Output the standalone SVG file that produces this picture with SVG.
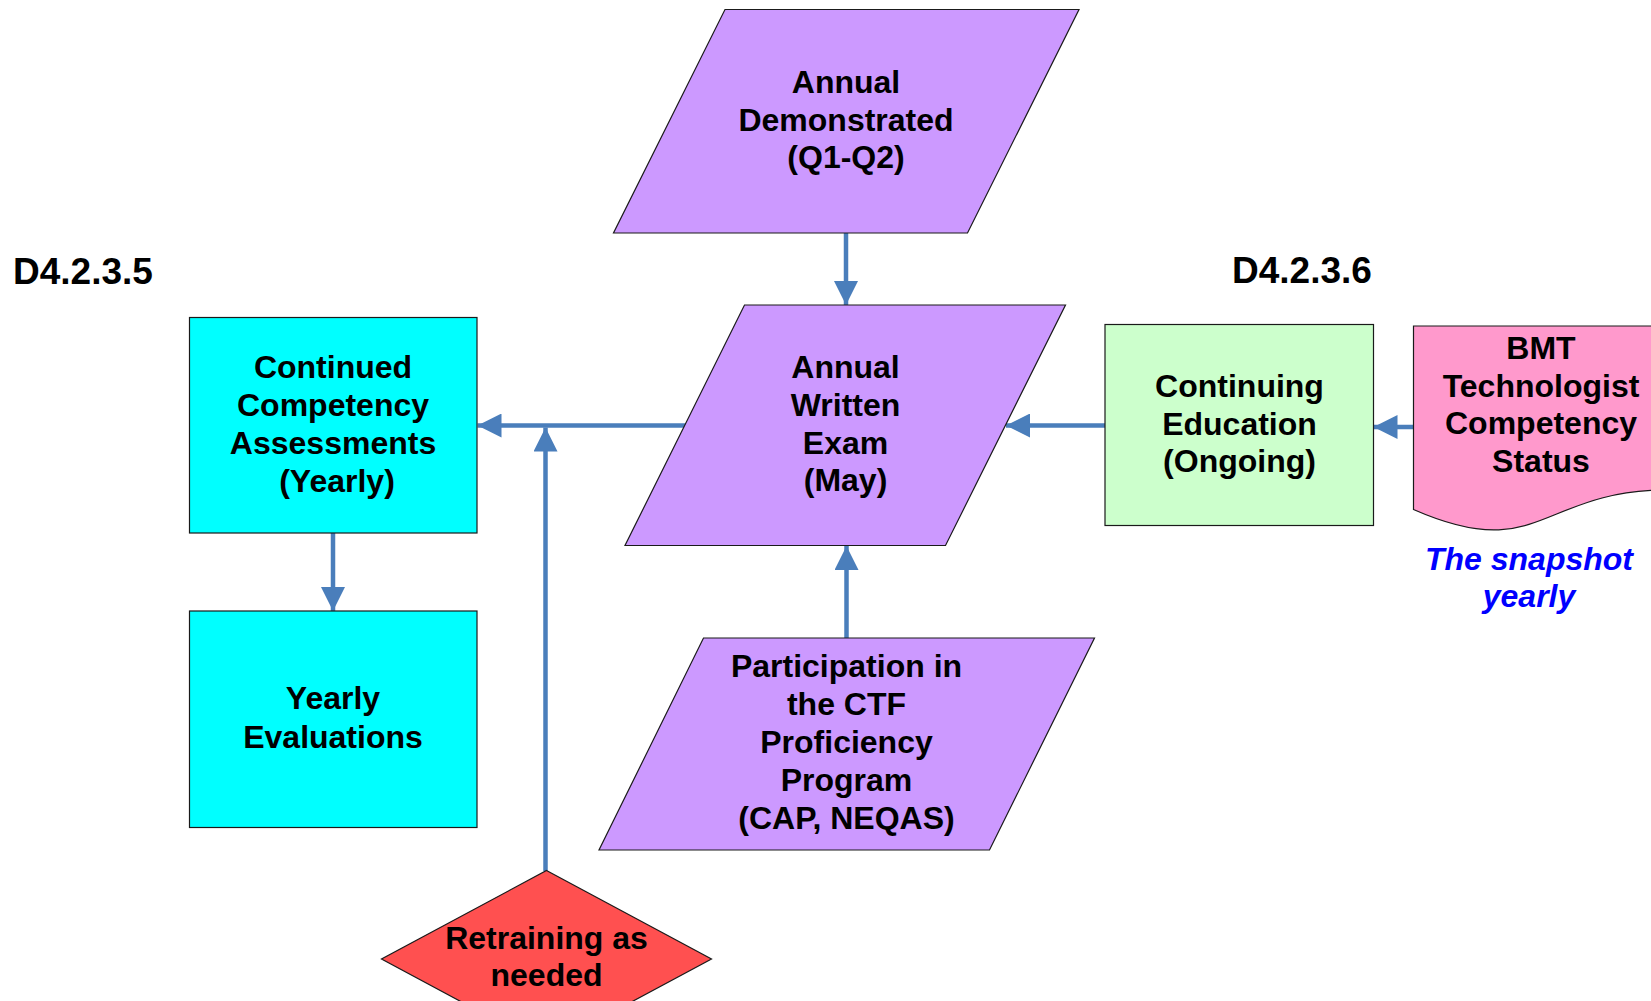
<svg xmlns="http://www.w3.org/2000/svg" width="1651" height="1001" viewBox="0 0 1651 1001">
<style>
  .shape { stroke: #1a1a1a; stroke-width: 1.2; }
  .purple { fill: #CC99FF; }
  .cyan { fill: #00FFFF; }
  .green { fill: #CCFFCC; }
  .pink { fill: #FF99CC; }
  .red { fill: #FF5050; }
  .lbl { font-family: "Liberation Sans", Arial, sans-serif; font-weight: bold; font-size: 32px; fill: #000; text-anchor: middle; }
  .code { font-family: "Liberation Sans", Arial, sans-serif; font-weight: bold; font-size: 37px; fill: #000; }
  .note { font-family: "Liberation Sans", Arial, sans-serif; font-weight: bold; font-style: italic; font-size: 32px; fill: #0000FF; text-anchor: middle; }
  .conn { stroke: #4A7EBB; stroke-width: 4.5; fill: none; marker-end: url(#arrow); }
</style>
<defs>
  <marker id="arrow" viewBox="0 0 24 24" markerWidth="24" markerHeight="24" refX="24" refY="12" orient="auto" markerUnits="userSpaceOnUse">
    <path d="M0,0 L24,12 L0,24 Z" fill="#4A7EBB"/>
  </marker>
</defs>
<rect width="1651" height="1001" fill="#FFFFFF"/>

<g id="connectors">
  <line class="conn" x1="846" y1="233" x2="846" y2="305"/>
  <line class="conn" x1="686" y1="425.5" x2="477.5" y2="425.5"/>
  <line class="conn" x1="1105" y1="425.5" x2="1006" y2="425.5"/>
  <line class="conn" x1="1415" y1="427" x2="1373.5" y2="427"/>
  <line class="conn" x1="333" y1="533" x2="333" y2="611"/>
  <line class="conn" x1="846.5" y1="638" x2="846.5" y2="546"/>
  <line class="conn" x1="545.5" y1="871" x2="545.5" y2="427.5"/>
</g>

<g id="label-d4235">
  <text class="code" x="13" y="284">D4.2.3.5</text>
</g>
<g id="label-d4236">
  <text class="code" x="1232" y="283">D4.2.3.6</text>
</g>

<g id="annual-demonstrated">
  <polygon class="shape purple" points="725,9.5 1079,9.5 967.5,233 613.5,233"/>
  <text class="lbl" x="846" y="93">Annual</text>
  <text class="lbl" x="846" y="130.5">Demonstrated</text>
  <text class="lbl" x="846" y="168">(Q1-Q2)</text>
</g>

<g id="annual-written-exam">
  <polygon class="shape purple" points="744.5,305 1065.5,305 945.5,545.5 625,545.5"/>
  <text class="lbl" x="845.5" y="378">Annual</text>
  <text class="lbl" x="845.5" y="416">Written</text>
  <text class="lbl" x="845.5" y="453.5">Exam</text>
  <text class="lbl" x="845.5" y="491">(May)</text>
</g>

<g id="ctf-participation">
  <polygon class="shape purple" points="703.5,638 1094.5,638 989.5,850 599,850"/>
  <text class="lbl" x="846.5" y="677">Participation in</text>
  <text class="lbl" x="846.5" y="715">the CTF</text>
  <text class="lbl" x="846.5" y="753">Proficiency</text>
  <text class="lbl" x="846.5" y="791">Program</text>
  <text class="lbl" x="846.5" y="828.5">(CAP, NEQAS)</text>
</g>

<g id="continued-competency">
  <rect class="shape cyan" x="189.5" y="317.5" width="287.5" height="215.5"/>
  <text class="lbl" x="333" y="378">Continued</text>
  <text class="lbl" x="333" y="416">Competency</text>
  <text class="lbl" x="333" y="453.5">Assessments</text>
  <text class="lbl" x="337" y="492">(Yearly)</text>
</g>

<g id="yearly-evaluations">
  <rect class="shape cyan" x="189.5" y="611" width="287.5" height="216.5"/>
  <text class="lbl" x="333" y="709">Yearly</text>
  <text class="lbl" x="333" y="748">Evaluations</text>
</g>

<g id="continuing-education">
  <rect class="shape green" x="1105" y="324.5" width="268.5" height="201"/>
  <text class="lbl" x="1239.5" y="397">Continuing</text>
  <text class="lbl" x="1239.5" y="434.5">Education</text>
  <text class="lbl" x="1239.5" y="472">(Ongoing)</text>
</g>

<g id="bmt-status">
  <path class="shape pink" d="M1413.5,326 L1668,326 L1668,490 C1540,490 1540,565 1413.5,509.5 Z"/>
  <text class="lbl" x="1541" y="358.5">BMT</text>
  <text class="lbl" x="1541" y="397">Technologist</text>
  <text class="lbl" x="1541" y="434">Competency</text>
  <text class="lbl" x="1541" y="472">Status</text>
</g>

<g id="snapshot-note">
  <text class="note" x="1529" y="569.5">The snapshot</text>
  <text class="note" x="1529" y="607">yearly</text>
</g>

<g id="retraining">
  <polygon class="shape red" points="546.5,870.5 711.5,959 546.5,1047.5 381.5,959"/>
  <text class="lbl" x="546.5" y="948.5">Retraining as</text>
  <text class="lbl" x="546.5" y="986">needed</text>
</g>
</svg>
